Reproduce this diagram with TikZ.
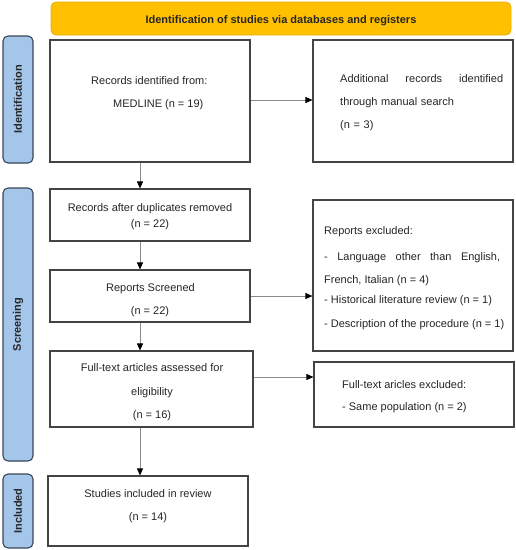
\documentclass[tikz,border=0pt]{standalone}
\usepackage{fontspec}
\setmainfont{Liberation Sans}
\usetikzlibrary{arrows.meta,calc}
\definecolor{hdr}{HTML}{FFC000}
\definecolor{hdrline}{HTML}{E8B000}
\definecolor{side}{HTML}{A4C6EA}
\definecolor{sideline}{HTML}{3A4656}
\definecolor{boxline}{HTML}{444444}
\definecolor{arrline}{HTML}{8A8A8A}
\tikzset{
  box/.style={draw=boxline, line width=1.1pt, fill=white},
  sidebox/.style={draw=sideline, fill=side, line width=1.1pt, rounded corners=5pt},
  sidetxt/.style={font=\fontsize{11}{13}\selectfont\bfseries, rotate=90, text=black!85},
  txt/.style={font=\fontsize{11}{23}\selectfont, text=black!85, inner sep=0pt},
  arr/.style={draw=arrline, line width=0.9pt, -{Triangle[length=7pt,width=6pt,fill=black,color=black]}},
}
\begin{document}
\begin{tikzpicture}[x=1pt,y=-1pt]
\useasboundingbox (0,0) rectangle (516,550);
\coordinate (col) at (140,0);
% header
\node[draw=hdrline, fill=hdr, rounded corners=5pt, line width=0.8pt, minimum width=460pt, minimum height=33pt, inner sep=0pt] (hdr) at (281,18.5) {};
\node[font=\fontsize{11}{13}\selectfont\bfseries, text=black!85, anchor=base, inner sep=0pt] (hdrtxt) at (281,23) {Identification of studies via databases and registers};
% side labels
\node[sidebox, minimum width=30pt, minimum height=127pt, inner sep=0pt] (sid) at (18,99.5) {};
\node[sidetxt] (sidtxt) at (sid.center) {Identification};
\node[sidebox, minimum width=30pt, minimum height=273pt, inner sep=0pt] (sscr) at (18,324.5) {};
\node[sidetxt] (sscrtxt) at (sscr.center) {Screening};
\node[sidebox, minimum width=30pt, minimum height=74pt, inner sep=0pt] (sinc) at (18,511) {};
\node[sidetxt] (sinctxt) at (sinc.center) {Included};
% boxes
\node[box, minimum width=200pt, minimum height=122pt, inner sep=0pt] (b1) at (150,101) {};
\node[box, minimum width=200pt, minimum height=122pt, inner sep=0pt] (b2) at (413,101) {};
\node[box, minimum width=200pt, minimum height=52pt, inner sep=0pt] (b3) at (150,215) {};
\node[box, minimum width=200pt, minimum height=52pt, inner sep=0pt] (b4) at (150,296) {};
\node[box, minimum width=200pt, minimum height=151pt, inner sep=0pt] (b5) at (413,275.5) {};
\node[box, minimum width=203pt, minimum height=76pt, inner sep=0pt] (b6) at (151.5,389) {};
\node[box, minimum width=200pt, minimum height=65pt, inner sep=0pt] (b7) at (414,394.5) {};
\node[box, minimum width=200pt, minimum height=70pt, inner sep=0pt] (b8) at (148,511) {};
% texts
\node[txt, anchor=base west] (t1a) at (91,84) {Records identified from:};
\node[txt, anchor=base west] (t1b) at (113,107) {MEDLINE (n = 19)};
\node[txt, anchor=north west, text width=163pt, align=left] (t2) at (340,74) {Additional\hfill records\hfill identified\\through manual search\\(n = 3)};
\node[txt, anchor=base] (t3a) at (150,211) {Records after duplicates removed};
\node[txt, anchor=base] (t3b) at (150,227.5) {(n = 22)};
\node[txt, anchor=base] (t4a) at (150.5,291) {Reports Screened};
\node[txt, anchor=base] (t4b) at (150,314) {(n = 22)};
\node[txt, anchor=base west] (t5a) at (324,234) {Reports excluded:};
\node[txt, anchor=base west, text width=176pt, align=left] (t5b) at (324,260) {-\hfill Language\hfill other\hfill than\hfill English,};
\node[txt, anchor=base west] (t5c) at (324,283) {French, Italian (n = 4)};
\node[txt, anchor=base west] (t5d) at (324,303.5) {- Historical literature review (n = 1)};
\node[txt, anchor=base west] (t5e) at (324,327) {- Description of the procedure (n = 1)};
\node[txt, anchor=base] (t6a) at (152,371) {Full-text articles assessed for};
\node[txt, anchor=base] (t6b) at (152,395) {eligibility};
\node[txt, anchor=base] (t6c) at (152,418) {(n = 16)};
\node[txt, anchor=base west] (t7a) at (342,388) {Full-text aricles excluded:};
\node[txt, anchor=base west] (t7b) at (342,410) {- Same population (n = 2)};
\node[txt, anchor=base] (t8a) at (148,497) {Studies included in review};
\node[txt, anchor=base] (t8b) at (148,520) {(n = 14)};
% arrows
\draw[arr] ([yshift=1pt]b1.east) -- ([yshift=1pt]b2.west);
\draw[arr] (b1.south -| col) -- (b3.north -| col);
\draw[arr] (b3.south -| col) -- (b4.north -| col);
\draw[arr] (b4.east) -- (b4.east -| b5.west);
\draw[arr] (b4.south -| col) -- (b6.north -| col);
\draw[arr] ([yshift=12pt]b6.east) coordinate (e6) -- (e6 -| b7.west);
\draw[arr] (b6.south -| col) -- (b8.north -| col);
\end{tikzpicture}
\end{document}
